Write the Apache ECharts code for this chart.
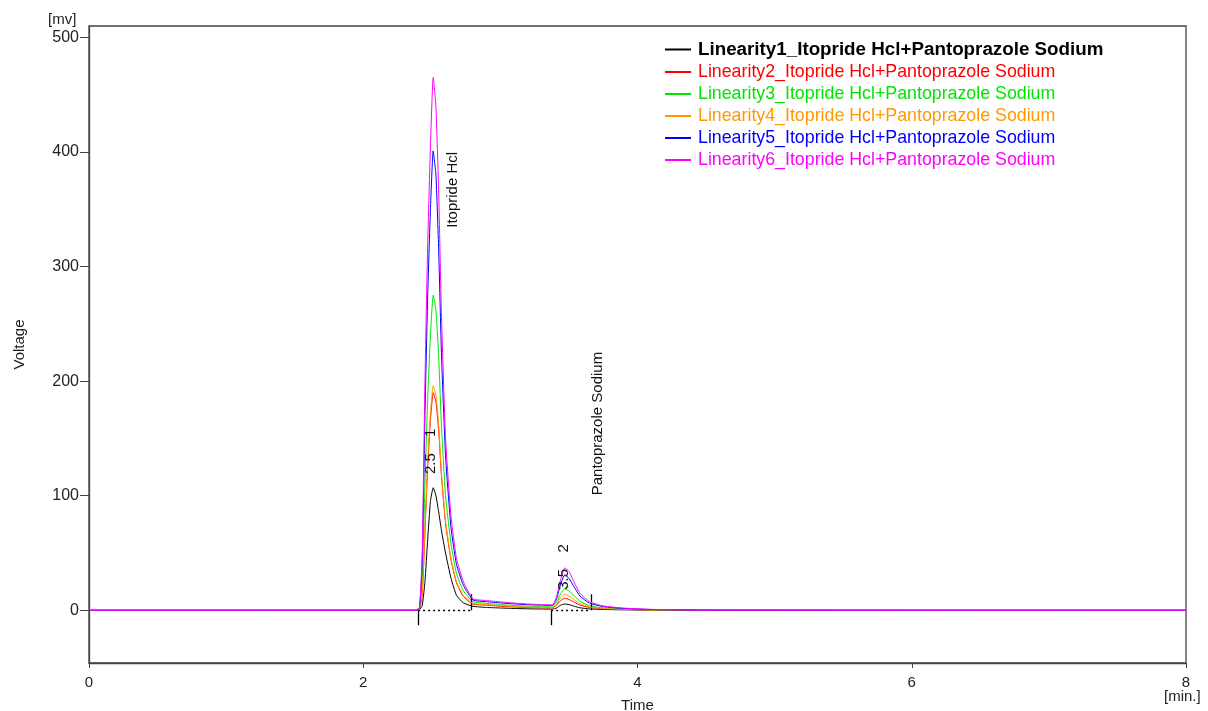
<!DOCTYPE html>
<html>
<head>
<meta charset="utf-8">
<title>Linearity chromatogram</title>
<script src="https://cdn.jsdelivr.net/npm/echarts@6/dist/echarts.min.js"></script>
<style>
  html, body { margin: 0; padding: 0; background: #fff; }
  #grafico { width: 1208px; height: 711px; }
</style>
</head>
<body>
<div id="grafico"></div>
<script>
// tiempos de muestreo (min)
const tiempos = [0, 2.30, 2.38, 2.41, 2.43, 2.45, 2.47, 2.49, 2.51, 2.53, 2.55, 2.57, 2.60, 2.64, 2.68, 2.73, 2.80,
  2.90, 3.00, 3.10, 3.20, 3.30, 3.38, 3.41, 3.44, 3.47, 3.50, 3.54, 3.58, 3.65, 3.75, 3.90, 4.10, 4.50, 8.00]

// señales (mV) de cada inyección
const linealidad1 = [0, 0, 0, 0.5, 4, 25, 62, 95, 107, 100, 86, 70, 50, 28, 13, 6.5, 3.5,
  2.5, 2, 1.6, 1.3, 1.1, 1, 2, 4.5, 5.5, 5, 3.5, 2.2, 1.2, 0.7, 0.4, 0.2, 0, 0]
const linealidad2 = [0, 0, 0, 1, 13, 68, 125, 166, 190, 182, 157, 118, 76, 44, 24, 12, 5.5,
  4.5, 3.5, 2.9, 2.4, 2.1, 2, 4.5, 8.5, 10.5, 9.5, 7, 4.5, 2.5, 1.4, 0.8, 0.4, 0.1, 0]
const linealidad3 = [0, 0, 0, 1.5, 25, 110, 185, 240, 275, 262, 222, 162, 100, 58, 32, 17, 7.5,
  6, 5, 4.2, 3.6, 3.2, 3, 7, 14.5, 19, 17, 12.5, 8, 4, 2.1, 1.1, 0.5, 0.1, 0]
const linealidad4 = [0, 0, 0, 1, 15, 72, 130, 172, 196, 188, 162, 120, 78, 45, 25, 13, 6,
  5, 4.2, 3.4, 2.8, 2.4, 2.2, 5.5, 11, 14, 12.5, 9, 5.8, 3, 1.6, 0.9, 0.4, 0.1, 0]
const linealidad5 = [0, 0, 0, 2, 42, 170, 275, 350, 401, 380, 315, 225, 135, 72, 40, 22, 9,
  7.5, 6.5, 5.6, 4.9, 4.5, 4.2, 10, 23, 31, 28, 20, 12.5, 6.2, 3.2, 1.6, 0.7, 0.1, 0]
const linealidad6 = [0, 0, 0, 2.5, 50, 200, 320, 405, 465, 440, 365, 260, 150, 82, 45, 25, 10,
  8.5, 7.3, 6.3, 5.5, 5, 4.8, 12, 27, 37, 34, 24, 15, 7.5, 3.8, 1.9, 0.8, 0.1, 0]

const nombres = [
  'Linearity1_Itopride Hcl+Pantoprazole Sodium',
  'Linearity2_Itopride Hcl+Pantoprazole Sodium',
  'Linearity3_Itopride Hcl+Pantoprazole Sodium',
  'Linearity4_Itopride Hcl+Pantoprazole Sodium',
  'Linearity5_Itopride Hcl+Pantoprazole Sodium',
  'Linearity6_Itopride Hcl+Pantoprazole Sodium'
]
const colores = ['#000000', '#ff0000', '#00e600', '#ff9900', '#0000ff', '#ff00ff']
const senales = [linealidad1, linealidad2, linealidad3, linealidad4, linealidad5, linealidad6]

// integración: inicio y fin de cada pico (min)
const inicioPicos = [2.40, 3.37]
const finPicos = [2.79, 3.66]

// etiquetas de los picos: [texto, tiempo, mV]
const nombresPicos = [['Itopride Hcl', 2.65, 367], ['Pantoprazole Sodium', 3.71, 163]]
const tiemposRetencion = [['1', 2.495, 155], ['2.5', 2.495, 128], ['2', 3.465, 54], ['3.5', 3.465, 27]]

const ejeY = [0, 100, 200, 300, 400, 500]
const ejeX = [0, 2, 4, 6, 8]

const fuente = '"Liberation Sans", Arial, sans-serif'
const grafico = echarts.init(document.getElementById('grafico'))

const marcasIntegracion = []
inicioPicos.forEach(t => marcasIntegracion.push([{ coord: [t, 0] }, { coord: [t, -13] }]))
finPicos.forEach(t => marcasIntegracion.push([{ coord: [t, 0] }, { coord: [t, 14] }]))
const lineasBase = inicioPicos.map((t, i) => [{ coord: [t, 0] }, { coord: [finPicos[i], 0] }])

const etiquetas = nombresPicos.concat(tiemposRetencion).map(e => ({
  coord: [e[1], e[2]],
  value: e[0],
  label: {
    show: true,
    formatter: e[0],
    rotate: 90,
    position: 'inside',
    color: '#111',
    fontSize: 15,
    fontFamily: fuente
  }
}))

const series = senales.map((valores, i) => ({
  name: nombres[i],
  type: 'line',
  data: tiempos.map((t, k) => [t, valores[k]]),
  smooth: 0.15,
  showSymbol: false,
  symbol: 'none',
  lineStyle: { color: colores[i], width: 1 },
  itemStyle: { color: colores[i] },
  z: 2 + i
}))

series[0].markLine = {
  silent: true,
  symbol: 'none',
  label: { show: false },
  data: marcasIntegracion.concat(lineasBase.map(par => [
    Object.assign({ lineStyle: { type: [2, 3] } }, par[0]), par[1]
  ])),
  lineStyle: { color: '#000', width: 1.3, type: 'solid' }
}
series[0].markPoint = {
  silent: true,
  symbol: 'circle',
  symbolSize: 1,
  itemStyle: { color: 'rgba(0,0,0,0)' },
  data: etiquetas,
  z: 30
}

const opciones = {
  animation: false,
  backgroundColor: '#fff',
  grid: {
    left: 89, right: 22, top: 26, bottom: 48,
    outerBoundsMode: 'none',
    show: true, borderColor: '#444', borderWidth: 1.3
  },
  legend: {
    orient: 'vertical',
    left: 660,
    top: 35,
    itemGap: 4,
    itemWidth: 26,
    itemHeight: 2,
    icon: 'rect',
    data: nombres.map((n, i) => ({
      name: n,
      itemStyle: { color: colores[i] },
      textStyle: i === 0
        ? { color: colores[i], fontWeight: 'bold', fontSize: 18.8 }
        : { color: colores[i], fontWeight: 'normal' }
    })),
    textStyle: { fontSize: 17.8, lineHeight: 18, fontFamily: fuente, padding: [0, 0, 0, 2] }
  },
  xAxis: {
    type: 'value',
    min: 0,
    max: 8,
    interval: 2,
    name: 'Time',
    nameLocation: 'middle',
    nameGap: 35,
    nameTextStyle: { fontSize: 15, color: '#222', fontFamily: fuente },
    axisLine: { show: true, onZero: false, lineStyle: { color: '#444', width: 1.3 } },
    axisTick: { show: true, length: 5, inside: false, lineStyle: { color: '#444' } },
    axisLabel: { color: '#222', fontSize: 15, fontFamily: fuente, margin: 12,
      customValues: ejeX },
    splitLine: { show: false }
  },
  yAxis: {
    type: 'value',
    min: -46,
    max: 510,
    name: 'Voltage',
    nameLocation: 'middle',
    nameGap: 62,
    nameTextStyle: { fontSize: 15, color: '#222', fontFamily: fuente },
    axisLine: { show: true, onZero: false, lineStyle: { color: '#444', width: 1.3 } },
    axisTick: { show: true, length: 9, customValues: ejeY, lineStyle: { color: '#444' } },
    axisLabel: { color: '#222', fontSize: 16, fontFamily: fuente, margin: 10,
      customValues: ejeY },
    splitLine: { show: false }
  },
  graphic: [
    { type: 'text', left: 48, top: 12, style: { text: '[mv]', fontSize: 15, fill: '#222', fontFamily: fuente } },
    { type: 'text', left: 1164, top: 689, style: { text: '[min.]', fontSize: 15, fill: '#222', fontFamily: fuente } }
  ],
  series: series
}

grafico.setOption(opciones)
window.addEventListener('resize', () => grafico.resize())
</script>
</body>
</html>
